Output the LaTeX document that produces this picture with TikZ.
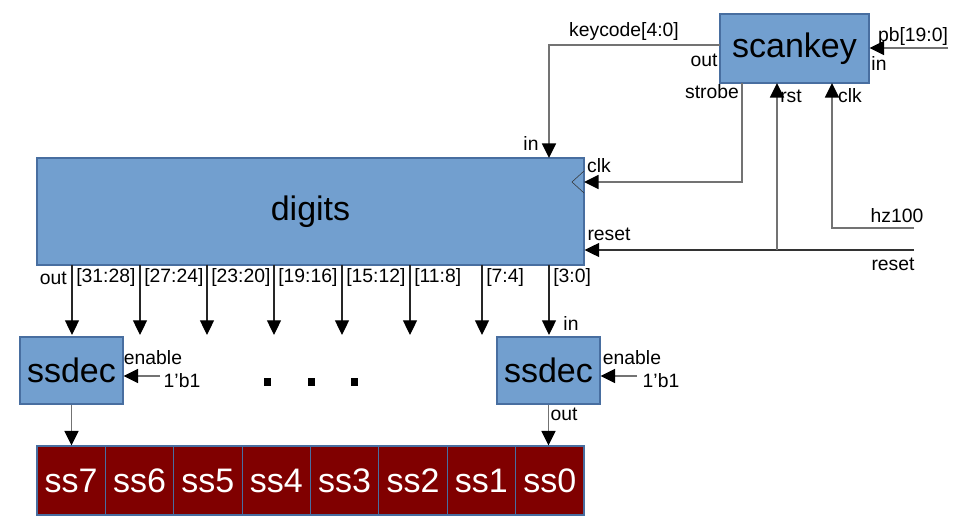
\documentclass[tikz,border=0pt]{standalone}
\usepackage{fontspec}
\setmainfont{Liberation Sans}
\usetikzlibrary{arrows.meta,calc,positioning}

\begin{document}
\begin{tikzpicture}[
    x=0.75pt, y=-0.75pt,          % 1 drawing unit = 1 px of the sketch, y downwards
    >={Triangle[length=11pt,width=10.5pt,black]},
    font=\fontsize{14.5}{17}\selectfont,
    blk/.style={draw=blkE,fill=blk,line width=0.8pt,inner sep=0pt,
                font=\fontsize{25.5}{30}\selectfont},
    seg/.style={draw=blkE,fill=segR,text=white,line width=0.8pt,inner sep=0pt,
                minimum width=51.28pt,minimum height=51.75pt,
                font=\fontsize{25.5}{30}\selectfont},
    wire/.style={black!55,line width=1.3pt},
    bus/.style={black!85,line width=0.9pt},
    lbl/.style={inner sep=0pt},
  ]
  \definecolor{blk}{RGB}{114,159,207}
  \definecolor{blkE}{RGB}{72,110,160}
  \definecolor{segR}{RGB}{128,0,0}

  \useasboundingbox (0,0) rectangle (972,531);

  %% ---------------- blocks ----------------
  \node[blk,minimum width=111.75pt,minimum height=51.75pt] (scankey) at (794.5,48.5) {scankey};
  \node[blk,minimum width=410.25pt,minimum height=80.25pt] (digits) at (310.5,211.5) {digits};
  \node[blk,minimum width=77.25pt,minimum height=50.25pt] (ssdL) at (71.5,370.5) {ssdec};
  \node[blk,minimum width=77.25pt,minimum height=50.25pt] (ssdR) at (548.5,370.5) {ssdec};

  % seven-segment displays, ss7 on the left
  \foreach \i in {0,...,7}{
    \pgfmathtruncatemacro{\n}{7-\i}
    \node[seg] (ss\n) at ({37+68.375*(\i+0.5)},480.5) {ss\n};}

  %% ---------------- scankey wiring ----------------
  \coordinate (kout) at (720,45);   \coordinate (kin) at (549,158);
  \coordinate (stb) at (742,83);    \coordinate (dclk) at (584,182);
  \coordinate (skrst) at (777,83);  \coordinate (skclk) at (832,83);
  \coordinate (hz) at (914,228);    \coordinate (rstin) at (914,250);
  \coordinate (jrst) at (777,250);  \coordinate (pb) at (948,48);

  \draw[wire,->] (kout) -| (kin);
  \draw[wire,->] (stb) |- (dclk);
  \draw[black!80,thin] (584,171) -- (572,182) -- (584,193);
  \draw[black!80,line width=1.1pt,->] (rstin) -- (rstin -| digits.east);
  \draw[wire,->] (jrst) -- (skrst);
  \draw[wire,->] (hz) -| (skclk);
  \draw[wire,->] (pb) -- (pb -| scankey.east);

  \node[lbl] (kcode) at (624,32) {keycode[4:0]};
  \node[lbl] (lout) at (704,60) {out};
  \node[lbl] (lin) at (531,143) {in};
  \node[lbl] (lstb) at (712,92) {strobe};
  \node[lbl] (lclk) at (599,166) {clk};
  \node[lbl] (lrst) at (791,96) {rst};
  \node[lbl] (lskclk) at (850,96) {clk};
  \node[lbl] (lpb) at (913,37) {pb[19:0]};
  \node[lbl] (lpbin) at (879,63) {in};
  \node[lbl] (lhz) at (897,216) {hz100};
  \node[lbl] (ldrst) at (609,234) {reset};
  \node[lbl] (lreset) at (893,264) {reset};

  %% ---------------- digit buses ----------------
  \node[lbl,anchor=east] (lbout) at (67,278) {out};
  \foreach \x/\t in {72/{[31:28]},140/{[27:24]},207/{[23:20]},274/{[19:16]},
                     342/{[15:12]},410/{[11:8]},482/{[7:4]},549/{[3:0]}}{
    \draw[bus,->] (\x,265) -- (\x,335);
    \node[lbl,anchor=west] (b\x) at (\x+4,278) {\t};}

  \node[lbl] (lsin) at (571,323) {in};
  \node[lbl] (lsout) at (564,414) {out};

  %% ---------------- enables ----------------
  \coordinate (enL) at (160,376);  \coordinate (enR) at (637,376);
  \draw[wire,->] (enL) -- (enL -| ssdL.east);
  \draw[wire,->] (enR) -- (enR -| ssdR.east);
  \node[lbl] (lenL) at (153,358) {enable};
  \node[lbl] (lbL) at (182,381) {1'b1};
  \node[lbl] (lenR) at (632,358) {enable};
  \node[lbl] (lbR) at (661,381) {1'b1};

  % ellipsis between the decoders
  \foreach \x in {267,311,354}{\fill (\x-3.5,378) rectangle (\x+3.5,386);}

  %% ---------------- decoder outputs ----------------
  \draw[wire,->] (ssdL.south) -- (ssdL.south |- ss7.north);
  \draw[wire,->] (ssdR.south) -- (ssdR.south |- ss0.north);
\end{tikzpicture}
\end{document}
